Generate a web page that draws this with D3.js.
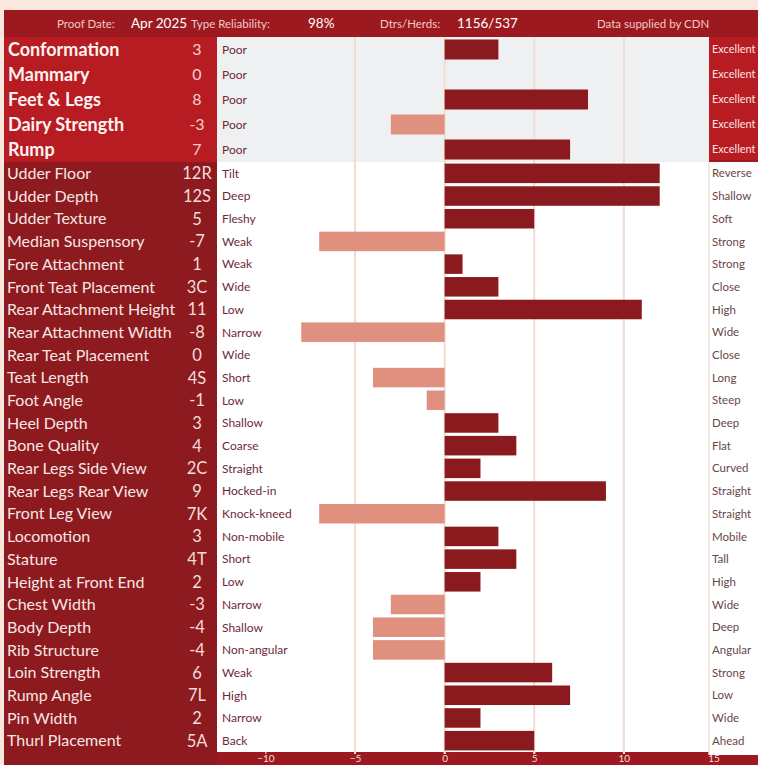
<!DOCTYPE html>
<html><head><meta charset="utf-8">
<script src="https://cdn.jsdelivr.net/npm/d3@7"></script>
<style>body{margin:0;background:#fae8de;overflow:hidden}svg{display:block}</style>
</head><body>
<svg id="chart" width="758" height="765"></svg>
<script>
// ---------- data ----------
const summaryTraits = ["Conformation","Mammary","Feet & Legs","Dairy Strength","Rump"];
const summaryValues = [3, 0, 8, -3, 7];
const summaryDisplay = ["3","0","8","-3","7"];
const summaryLow = ["Poor","Poor","Poor","Poor","Poor"];
const summaryHigh = ["Excellent","Excellent","Excellent","Excellent","Excellent"];

const linearTraits = ["Udder Floor","Udder Depth","Udder Texture","Median Suspensory","Fore Attachment",
  "Front Teat Placement","Rear Attachment Height","Rear Attachment Width","Rear Teat Placement","Teat Length",
  "Foot Angle","Heel Depth","Bone Quality","Rear Legs Side View","Rear Legs Rear View","Front Leg View",
  "Locomotion","Stature","Height at Front End","Chest Width","Body Depth","Rib Structure","Loin Strength",
  "Rump Angle","Pin Width","Thurl Placement"];
const linearValues = [12, 12, 5, -7, 1, 3, 11, -8, 0, -4, -1, 3, 4, 2, 9, -7, 3, 4, 2, -3, -4, -4, 6, 7, 2, 5];
const linearDisplay = ["12R","12S","5","-7","1","3C","11","-8","0","4S","-1","3","4","2C","9","7K","3","4T","2","-3","-4","-4","6","7L","2","5A"];
const linearLow = ["Tilt","Deep","Fleshy","Weak","Weak","Wide","Low","Narrow","Wide","Short","Low","Shallow","Coarse",
  "Straight","Hocked-in","Knock-kneed","Non-mobile","Short","Low","Narrow","Shallow","Non-angular","Weak","High","Narrow","Back"];
const linearHigh = ["Reverse","Shallow","Soft","Strong","Strong","Close","High","Wide","Close","Long","Steep","Deep","Flat",
  "Curved","Straight","Straight","Mobile","Tall","High","Wide","Deep","Angular","Strong","Low","Wide","Ahead"];

const xTicks = [-10, -5, 0, 5, 10, 15];
const gridTicks = [-5, 0, 5, 10];

const headerLabels = ["Proof Date:", "Type Reliability:", "Dtrs/Herds:"];
const headerValues = ["Apr 2025", "98%", "1156/537"];
const headerCredit = "Data supplied by CDN";

// ---------- layout ----------
const C = {
  page: "#fae8de", header: "#9c1a1f", topPanel: "#b71c23", lowPanel: "#8d1a1e",
  pos: "#8b1a1e", neg: "#e0907f", topPlot: "#eff0f2", grid: "#f2dcd0"
};
const L = { left: 4, right: 758, nameX: 8, valX: 197, plotL: 217, plotR: 709,
  headTop: 10, topY0: 37, topY1: 162, lowY1: 752, H: 765 };

const svg = d3.select("#chart");
const font = "Lato, 'Open Sans', sans-serif";

const x = d3.scaleLinear().domain([-12.7, 14.75]).range([L.plotL, L.plotR]);
const yTop = d3.scaleBand().domain(summaryTraits).range([L.topY0, L.topY1]).paddingInner(0.2).paddingOuter(0.1);
const yLow = d3.scaleBand().domain(linearTraits).range([L.topY1, L.lowY1]).paddingInner(0.14).paddingOuter(0.07);

// backgrounds
svg.append("rect").attr("x",0).attr("y",0).attr("width",758).attr("height",765).attr("fill",C.page);
svg.append("rect").attr("x",L.left).attr("y",L.headTop).attr("width",L.right-L.left).attr("height",L.H-L.headTop).attr("fill",C.header);
svg.append("rect").attr("x",L.left).attr("y",L.topY0).attr("width",L.plotL-L.left).attr("height",L.topY1-L.topY0).attr("fill",C.topPanel);
svg.append("rect").attr("x",L.left).attr("y",L.topY1).attr("width",L.plotL-L.left).attr("height",L.H-L.topY1).attr("fill",C.lowPanel);
svg.append("rect").attr("x",L.plotL).attr("y",L.topY0).attr("width",L.plotR-L.plotL).attr("height",L.topY1-L.topY0).attr("fill",C.topPlot);
svg.append("rect").attr("x",L.plotL).attr("y",L.topY1).attr("width",L.plotR-L.plotL).attr("height",L.lowY1-L.topY1).attr("fill","#ffffff");
svg.append("rect").attr("x",L.plotR).attr("y",L.topY0).attr("width",L.right-L.plotR).attr("height",L.topY1-2-L.topY0).attr("fill",C.topPanel);
svg.append("rect").attr("x",L.plotR).attr("y",L.topY1).attr("width",L.right-L.plotR).attr("height",755-L.topY1).attr("fill","#ffffff");
svg.append("line").attr("x1",L.plotR).attr("x2",L.plotR).attr("y1",L.topY1).attr("y2",755).attr("stroke","#efe3de").attr("stroke-width",1.5);

// header
const hdr = svg.append("g").attr("font-family",font);
const hLabX = [57, 191, 380], hValX = [131, 308, 457];
headerLabels.forEach((t,i)=>{
  hdr.append("text").attr("x",hLabX[i]).attr("y",28).attr("font-size",11.5).attr("fill","#f1c9c6").text(t);
  hdr.append("text").attr("x",hValX[i]).attr("y",28).attr("font-size",13.5).attr("fill","#ffffff").text(headerValues[i]);
});
hdr.append("text").attr("x",597).attr("y",28).attr("font-size",11.5).attr("fill","#f1c9c6").text(headerCredit);

// grid lines
svg.append("g").selectAll("line").data(gridTicks).join("line")
  .attr("x1",d=>x(d)).attr("x2",d=>x(d)).attr("y1",L.topY0).attr("y2",L.lowY1+2)
  .attr("stroke",C.grid).attr("stroke-width",2);

// bars
function bars(names, vals, y){
  svg.append("g").selectAll("rect").data(names).join("rect")
    .attr("x",(d,i)=>x(Math.min(0,vals[i])))
    .attr("width",(d,i)=>Math.abs(x(vals[i])-x(0)))
    .attr("y",d=>y(d)).attr("height",y.bandwidth())
    .attr("fill",(d,i)=>vals[i]<0?C.neg:C.pos);
}
bars(summaryTraits, summaryValues, yTop);
bars(linearTraits, linearValues, yLow);

// labels
function labels(names, disp, lows, highs, y, top){
  const g = svg.append("g").attr("font-family",font);
  const cy = d => y(d)+y.bandwidth()/2;
  g.selectAll(".n").data(names).join("text")
    .attr("x",L.nameX-(top?0:1)).attr("y",cy).attr("dy","0.36em")
    .attr("font-size",top?18:16).attr("font-weight",top?700:400)
    .attr("fill",top?"#fff3f1":"#f6e6e4").text(d=>d);
  g.selectAll(".v").data(names).join("text")
    .attr("x",L.valX).attr("y",cy).attr("dy","0.36em").attr("text-anchor","middle")
    .attr("font-size",top?16:16.5).attr("fill",top?"#f6cfca":"#f3dcdb").text((d,i)=>disp[i]);
  g.selectAll(".lo").data(names).join("text")
    .attr("x",L.plotL+5).attr("y",cy).attr("dy","0.36em")
    .attr("font-size",12).attr("fill","#6e2a36").text((d,i)=>lows[i]);
  g.selectAll(".hi").data(names).join("text")
    .attr("x",L.plotR+3).attr("y",cy).attr("dy","0.36em")
    .attr("font-size",top?11:11.5).attr("fill",top?"#fbe3e1":"#6a4646").text((d,i)=>highs[i]);
}
labels(summaryTraits, summaryDisplay, summaryLow, summaryHigh, yTop, true);
labels(linearTraits, linearDisplay, linearLow, linearHigh, yLow, false);

// axis
const ax = svg.append("g").attr("transform",`translate(0,${L.lowY1})`)
  .call(d3.axisBottom(x).tickValues(xTicks).tickSize(2).tickPadding(1));
ax.select(".domain").remove();
ax.selectAll("line").attr("stroke","#f5e2dc");
ax.selectAll("text").attr("fill","#f6dedb").attr("font-size",10).attr("font-family",font);
</script>
</body></html>
